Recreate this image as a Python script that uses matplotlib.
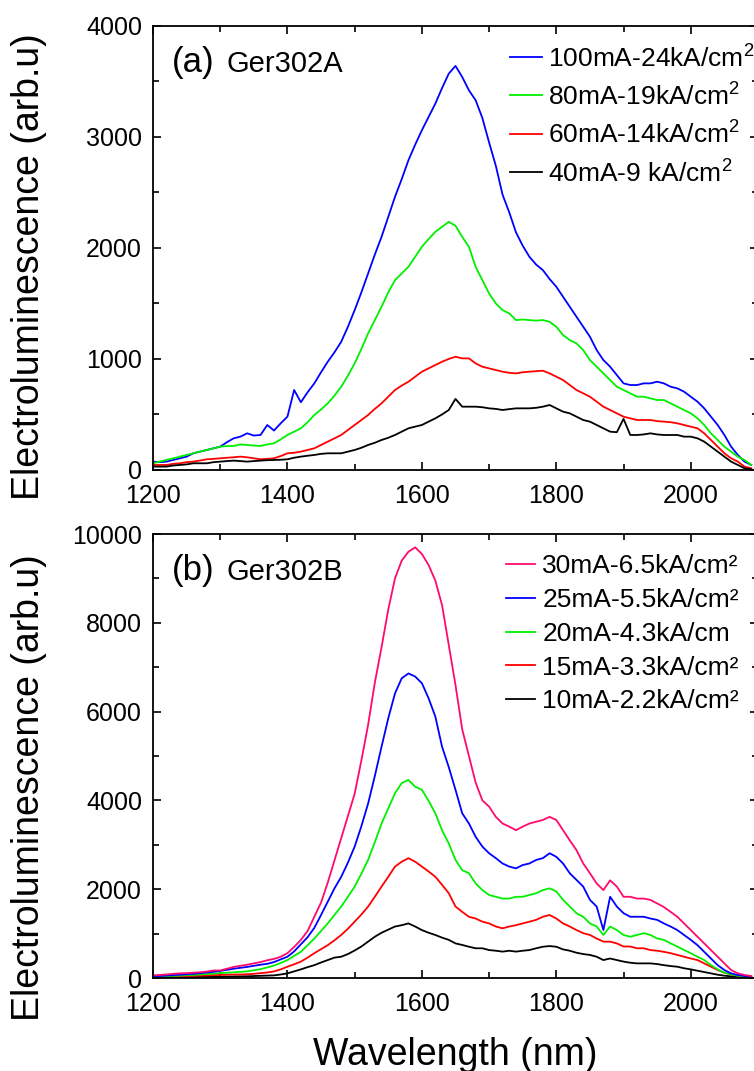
import numpy as np
import matplotlib
matplotlib.use('Agg')
import matplotlib.pyplot as plt
from matplotlib.ticker import MultipleLocator

plt.rcParams['font.family'] = ['Liberation Sans', 'DejaVu Sans']
plt.rcParams['mathtext.fontset'] = 'custom'
plt.rcParams['mathtext.rm'] = 'Liberation Sans'

# wavelength grid (nm), values every 10 nm
wl = np.arange(1200, 2100, 10)

# ---- panel (a) Ger302A ----
a_100 = [75, 70, 75, 90, 105, 120, 150, 165, 180, 195,
         210, 250, 285, 300, 330, 310, 315, 405, 355, 420,
         480, 720, 610, 700, 780, 880, 975, 1060, 1155, 1290,
         1440, 1600, 1770, 1940, 2100, 2280, 2460, 2620, 2790, 2930,
         3060, 3180, 3300, 3440, 3570, 3640, 3540, 3420, 3330, 3170,
         2950, 2740, 2480, 2320, 2140, 2020, 1920, 1850, 1800, 1720,
         1650, 1560, 1470, 1380, 1290, 1200, 1080, 990, 930, 855,
         780, 765, 765, 780, 780, 795, 780, 750, 735, 705,
         660, 615, 555, 480, 405, 315, 210, 135, 75, 45]
a_80 = [60, 75, 90, 105, 120, 135, 150, 165, 180, 195,
        210, 215, 216, 230, 225, 220, 216, 230, 240, 275,
        315, 345, 375, 430, 495, 545, 600, 670, 750, 850,
        960, 1090, 1230, 1350, 1470, 1600, 1710, 1770, 1830, 1920,
        2010, 2080, 2145, 2190, 2235, 2200, 2100, 2010, 1830, 1710,
        1590, 1500, 1440, 1410, 1350, 1355, 1350, 1345, 1350, 1335,
        1290, 1215, 1170, 1140, 1080, 990, 930, 870, 810, 750,
        720, 690, 660, 660, 645, 630, 630, 600, 570, 540,
        510, 465, 405, 330, 270, 210, 165, 120, 90, 45]
a_60 = [45, 45, 45, 55, 60, 70, 75, 85, 96, 100,
        105, 110, 114, 120, 114, 105, 96, 100, 105, 125,
        150, 155, 165, 180, 195, 225, 255, 285, 315, 360,
        405, 450, 495, 550, 600, 660, 720, 760, 795, 840,
        885, 915, 945, 975, 1000, 1020, 1005, 1005, 960, 930,
        915, 900, 885, 875, 870, 880, 885, 890, 894, 870,
        840, 810, 765, 720, 690, 660, 615, 570, 540, 510,
        480, 465, 450, 450, 450, 440, 435, 430, 420, 405,
        390, 375, 330, 270, 210, 150, 105, 75, 30, 15]
a_40 = [30, 30, 30, 40, 45, 50, 60, 60, 60, 70,
        75, 80, 84, 80, 75, 80, 84, 88, 90, 92,
        96, 110, 120, 128, 135, 145, 150, 150, 150, 165,
        180, 200, 225, 245, 270, 290, 315, 345, 375, 390,
        405, 435, 465, 500, 540, 640, 570, 570, 570, 565,
        555, 550, 540, 548, 555, 555, 555, 560, 570, 585,
        555, 525, 510, 480, 450, 435, 405, 375, 345, 340,
        460, 315, 315, 320, 330, 320, 315, 315, 315, 300,
        300, 285, 255, 210, 165, 120, 75, 45, 15, 6]

# ---- panel (b) Ger302B ----
b_30 = [60, 70, 80, 95, 105, 110, 120, 130, 145, 170,
        170, 210, 250, 275, 300, 330, 360, 400, 430, 480,
        560, 700, 860, 1060, 1380, 1700, 2150, 2650, 3150, 3650,
        4150, 4900, 5700, 6650, 7450, 8300, 9000, 9400, 9600, 9700,
        9550, 9300, 8950, 8400, 7500, 6600, 5600, 5000, 4400, 4000,
        3860, 3630, 3480, 3410, 3330, 3410, 3480, 3520, 3560, 3630,
        3560, 3330, 3100, 2880, 2580, 2360, 2130, 1980, 2200, 2060,
        1830, 1830, 1790, 1790, 1760, 1680, 1600, 1490, 1380, 1230,
        1080, 930, 780, 630, 480, 330, 180, 105, 68, 45]
b_25 = [40, 45, 55, 65, 75, 85, 95, 110, 125, 140,
        160, 185, 210, 230, 250, 275, 300, 320, 360, 420,
        480, 600, 760, 920, 1130, 1420, 1720, 2020, 2280, 2600,
        2960, 3420, 3930, 4550, 5210, 5850, 6410, 6750, 6860, 6790,
        6640, 6300, 5890, 5210, 4750, 4240, 3710, 3480, 3180, 2960,
        2810, 2700, 2580, 2510, 2470, 2545, 2580, 2660, 2700, 2810,
        2730, 2580, 2360, 2210, 2060, 1760, 1610, 1080, 1830, 1610,
        1460, 1380, 1380, 1380, 1340, 1310, 1230, 1160, 1080, 970,
        860, 740, 590, 440, 290, 180, 105, 68, 45, 30]
b_20 = [30, 35, 40, 50, 55, 65, 70, 80, 90, 100,
        110, 120, 130, 140, 150, 175, 200, 240, 280, 340,
        405, 500, 590, 740, 890, 1060, 1230, 1420, 1610, 1830,
        2060, 2350, 2660, 3060, 3480, 3820, 4160, 4390, 4460, 4310,
        4240, 3990, 3710, 3330, 3030, 2660, 2430, 2360, 2130, 1980,
        1870, 1830, 1790, 1790, 1830, 1830, 1870, 1910, 1980, 2020,
        1950, 1760, 1610, 1460, 1380, 1230, 1160, 970, 1160, 1080,
        970, 930, 970, 1010, 970, 890, 860, 780, 710, 630,
        560, 480, 405, 290, 195, 120, 83, 53, 30, 15]
b_15 = [20, 25, 30, 35, 40, 45, 50, 55, 60, 65,
        70, 75, 80, 80, 85, 95, 110, 125, 150, 195,
        255, 310, 370, 460, 560, 650, 740, 850, 970, 1110,
        1270, 1430, 1610, 1830, 2060, 2280, 2510, 2620, 2700, 2620,
        2510, 2400, 2280, 2100, 1910, 1610, 1490, 1380, 1340, 1270,
        1230, 1160, 1120, 1160, 1190, 1230, 1270, 1310, 1380, 1420,
        1340, 1230, 1160, 1080, 1010, 970, 890, 820, 820, 780,
        710, 710, 670, 670, 630, 615, 590, 560, 520, 480,
        440, 405, 330, 255, 180, 120, 83, 53, 30, 15]
b_10 = [10, 12, 14, 16, 18, 20, 22, 25, 27, 30,
        30, 33, 36, 38, 40, 45, 50, 55, 60, 80,
        105, 150, 195, 245, 290, 350, 405, 460, 480, 540,
        620, 710, 820, 930, 1020, 1090, 1160, 1190, 1230, 1160,
        1080, 1020, 970, 910, 860, 780, 745, 705, 670, 670,
        630, 615, 595, 615, 595, 615, 630, 670, 705, 720,
        705, 645, 615, 570, 540, 520, 480, 405, 440, 405,
        370, 345, 330, 330, 330, 315, 290, 270, 255, 220,
        195, 165, 135, 105, 75, 53, 38, 23, 15, 8]

sq = r'$^\mathregular{2}$'
labels_a = ['100mA-24kA/cm' + sq, '80mA-19kA/cm' + sq,
            '60mA-14kA/cm' + sq, '40mA-9 kA/cm' + sq]
labels_b = ['30mA-6.5kA/cm²', '25mA-5.5kA/cm²', '20mA-4.3kA/cm',
            '15mA-3.3kA/cm²', '10mA-2.2kA/cm²']
colors_a = ['#0000ff', '#00f000', '#ff0000', '#000000']
colors_b = ['#ff0a6c', '#0000ff', '#00f000', '#ff0000', '#000000']

fig = plt.figure(figsize=(7.54, 10.71), dpi=100)
ax1 = fig.add_axes([0.2029, 0.5612, 0.8024, 0.4146])
ax2 = fig.add_axes([0.2029, 0.0868, 0.8024, 0.4146])

lines = []
for y, c, l in zip([a_100, a_80, a_60, a_40], colors_a, labels_a):
    ln, = ax1.plot(wl, y, color=c, lw=1.3, label=l)
    lines.append(ln)
ax1.legend(handles=lines, loc='upper left', bbox_to_anchor=(0.590, 0.961),
           frameon=False, fontsize=19, handlelength=1.2, handletextpad=0.25,
           labelspacing=0.4, borderpad=0, borderaxespad=0)

lines = []
for y, c, l in zip([b_10, b_15, b_20, b_25, b_30], colors_b[::-1], labels_b[::-1]):
    ln, = ax2.plot(wl, y, color=c, lw=1.3, label=l)
    lines.append(ln)
ax2.legend(handles=lines[::-1], loc='upper left', bbox_to_anchor=(0.583, 0.954),
           frameon=False, fontsize=19, handlelength=1.12, handletextpad=0.27,
           labelspacing=0.37, borderpad=0, borderaxespad=0)

ax1.set_xlim(1200, 2100)
ax1.set_ylim(0, 4000)
ax2.set_xlim(1200, 2100)
ax2.set_ylim(0, 10000)
ax1.yaxis.set_major_locator(MultipleLocator(1000))
ax1.yaxis.set_minor_locator(MultipleLocator(500))
ax2.yaxis.set_major_locator(MultipleLocator(2000))
ax2.yaxis.set_minor_locator(MultipleLocator(1000))

for ax in (ax1, ax2):
    ax.xaxis.set_major_locator(MultipleLocator(200))
    ax.xaxis.set_minor_locator(MultipleLocator(100))
    ax.tick_params(which='both', direction='in', top=True, right=True,
                   labelsize=18, width=1.2)
    ax.tick_params(which='major', length=6)
    ax.tick_params(which='minor', length=4)
    ax.tick_params(axis='x', which='major', pad=10)
    ax.tick_params(axis='y', which='major', pad=8)
    for s in ax.spines.values():
        s.set_linewidth(1.3)

ax1.text(0.031, 0.8964, '(a)', transform=ax1.transAxes, fontsize=25, va='baseline')
ax1.text(0.1223, 0.8964, 'Ger302A', transform=ax1.transAxes, fontsize=21, va='baseline')
ax2.text(0.031, 0.8964, '(b)', transform=ax2.transAxes, fontsize=25, va='baseline')
ax2.text(0.1223, 0.8964, 'Ger302B', transform=ax2.transAxes, fontsize=21, va='baseline')

fig.text(0.0385, 0.7507, 'Electroluminescence (arb.u)', rotation=90,
         ha='center', va='center', fontsize=27)
fig.text(0.0385, 0.2650, 'Electroluminescence (arb.u)', rotation=90,
         ha='center', va='center', fontsize=27)
fig.text(0.6034, 0.0056, 'Wavelength (nm)', ha='center', va='baseline', fontsize=27)

fig.savefig('out.png', dpi=100)
